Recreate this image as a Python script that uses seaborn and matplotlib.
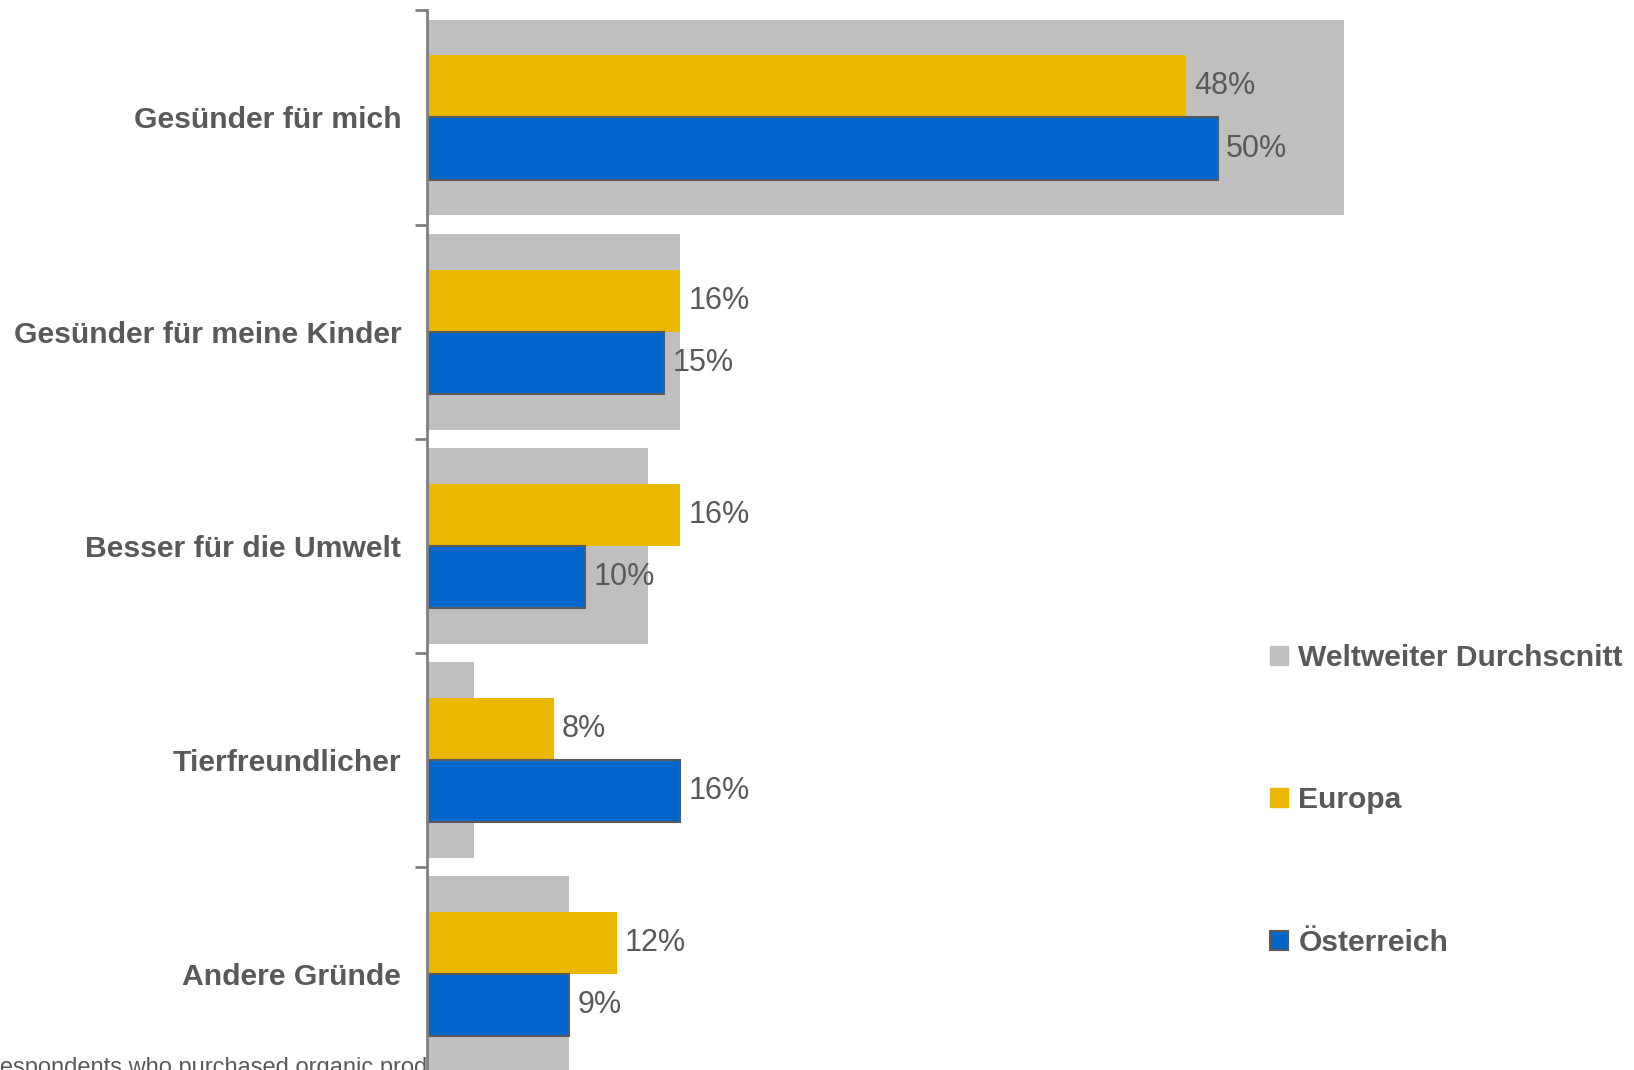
import matplotlib
matplotlib.use("Agg")
import matplotlib.pyplot as plt
import seaborn as sns
import pandas as pd
from matplotlib.patches import Patch

categories = ["Gesünder für mich", "Gesünder für meine Kinder", "Besser für die Umwelt",
              "Tierfreundlicher", "Andere Gründe"]
weltweit = [58, 16, 14, 3, 9]
europa = [48, 16, 16, 8, 12]
oesterreich = [50, 15, 10, 16, 9]
series_names = ["Weltweiter Durchscnitt", "Europa", "Österreich"]
footnote = "respondents who purchased organic products"

GREY = "#BFBFBF"
YELLOW = "#EAB800"
BLUE = "#0066CC"
TXT = "#595959"

sns.set_theme(style="white")
plt.rcParams['font.family'] = ['Liberation Sans', 'DejaVu Sans']

fig = plt.figure(figsize=(16.34, 10.70), dpi=100)
ax = fig.add_axes([427/1634, -0.0105, 1107/1634, 1 - 10.4/1070 + 0.0105])

df_w = pd.DataFrame({"cat": categories, "val": weltweit})
sns.barplot(data=df_w, x="val", y="cat", orient="h", color=GREY, width=0.915,
            saturation=1, ax=ax, zorder=1, linewidth=0)

df_eo = pd.DataFrame({
    "cat": categories * 2,
    "val": europa + oesterreich,
    "series": [series_names[1]] * 5 + [series_names[2]] * 5,
})
sns.barplot(data=df_eo, x="val", y="cat", hue="series", orient="h",
            palette=[YELLOW, BLUE], width=0.58, saturation=1, dodge=True,
            ax=ax, legend=False, zorder=2, linewidth=0)

# edges for blue bars
for c in ax.containers[2]:
    c.set_edgecolor("#5a5a5a")
    c.set_linewidth(1.5)

for cont in ax.containers[1:]:
    ax.bar_label(cont, labels=[f"{int(v)}%" for v in cont.datavalues],
                 padding=6, fontsize=22, color=TXT)

ax.set_xlim(0, 70)
ax.set_ylim(4.5, -0.5)
ax.set_xlabel("")
ax.set_ylabel("")
ax.set_xticks([])
for s in ["top", "right", "bottom"]:
    ax.spines[s].set_visible(False)
ax.spines["left"].set_color("#7f7f7f")
ax.spines["left"].set_linewidth(2)
ax.set_yticks(range(5))
ax.set_yticklabels(categories, fontsize=21.7, fontweight="bold", color=TXT)
ax.tick_params(axis="y", which="major", length=0, pad=18.5)
ax.set_yticks([i - 0.5 for i in range(6)], minor=True)
ax.tick_params(axis="y", which="minor", length=9, width=2, color="#7f7f7f", left=True)
ax.set_facecolor("white")

handles = [Patch(facecolor=GREY, edgecolor=GREY),
           Patch(facecolor=YELLOW, edgecolor=YELLOW),
           Patch(facecolor=BLUE, edgecolor="#5a5a5a", linewidth=1.5)]
leg = fig.legend(handles, series_names, loc="upper left",
                 bbox_to_anchor=(1255/1634, 1 - 629/1070), frameon=False,
                 prop={"size": 21.6, "weight": "bold"}, labelcolor=TXT,
                 handlelength=0.6, handleheight=0.6, handletextpad=0.35,
                 labelspacing=3.81, borderpad=0)

fig.text(-8/1634, -4/1070, footnote, fontsize=17, color=TXT, ha="left",
         va="baseline", zorder=-5)

fig.savefig("out.png", dpi=100)
